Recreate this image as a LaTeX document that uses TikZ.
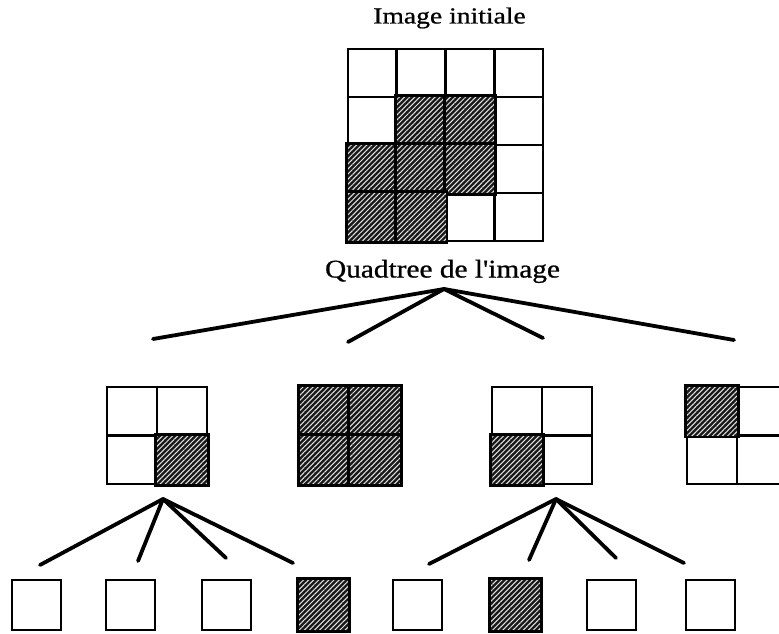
\documentclass[tikz,border=0pt]{standalone}
\usepackage{fontspec}
\setmainfont{Liberation Serif}
\usetikzlibrary{patterns.meta}
\tikzset{
  cell/.style={draw=black, line width=2.8pt, fill=white, inner sep=0pt, minimum width=#1},
  hatch/.style={preaction={fill=black!90}, pattern={Lines[angle=45,distance=3.6pt,line width=1.0pt]}, pattern color=white!90!black},
  link/.style={line width=3.8pt, line cap=round},
  lbl/.style={inner sep=0pt, anchor=base}
}
\begin{document}
\begin{tikzpicture}[x=1pt,y=-1pt]
\useasboundingbox (0,0) rectangle (779,634);
\clip (0,0) rectangle (779,634);
% titles
\node[lbl, font=\fontsize{23}{24}\selectfont\addfontfeature{FakeBold=0.7}, xscale=1.2] (title) at (449.5,23.5) {Image initiale};
\node[lbl, font=\fontsize{25.5}{27}\selectfont\addfontfeature{FakeBold=0.7}, xscale=1.15] (qtitle) at (442.5,277.5) {Quadtree de l\textquotesingle image};
% top grid 4x4
\foreach \r in {0,1,2,3}{
  \foreach \c in {0,1,2,3}{
    \node[cell=48.75pt, minimum height=48pt] (t\r\c) at (348+48.75*\c+24.375, 49+48*\r+24) {};
  }
}
\foreach \r/\c in {1/1,1/2,2/0,2/1,2/2,3/0,3/1}{
  \path[hatch] (t\r\c.north west) rectangle (t\r\c.south east);
  \draw[line width=2.8pt] (t\r\c.north west) rectangle (t\r\c.south east);
}
% second level grids
\foreach \g/\x in {1/107,2/300,3/492,4/687}{
  \foreach \r in {0,1}{
    \foreach \c in {0,1}{
      \node[cell=50pt, minimum height=48.5pt] (g\g\r\c) at (\x+50*\c+25, 387+48.5*\r+24.25) {};
    }
  }
}
\foreach \g/\r/\c in {1/1/1,2/0/0,2/0/1,2/1/0,2/1/1,3/1/0,4/0/0}{
  \path[hatch] (g\g\r\c.north west) rectangle (g\g\r\c.south east);
  \draw[line width=2.8pt] (g\g\r\c.north west) rectangle (g\g\r\c.south east);
}
% leaves
\foreach \i/\x in {1/12,2/106,3/202,4/299,5/393,6/491,7/587,8/686}{
  \node[cell=49pt, minimum height=50pt] (l\i) at (\x+24.5, 605) {};
}
\foreach \i in {4,6}{
  \path[hatch] (l\i.north west) rectangle (l\i.south east);
  \draw[line width=2.8pt] (l\i.north west) rectangle (l\i.south east);
}
% connectors top
\coordinate (a0) at (444,289);
\coordinate (e01) at (153,339);
\coordinate (e02) at (348,342);
\coordinate (e03) at (543,338);
\coordinate (e04) at (734,340);
\foreach \e in {e01,e02,e03,e04}{\draw[link] (a0) -- (\e);}
% connectors from grid 1
\coordinate (a1) at (163,499);
\coordinate (e11) at (40,565);
\coordinate (e12) at (138,561);
\coordinate (e13) at (226,558);
\coordinate (e14) at (293,563);
\foreach \e in {e11,e12,e13,e14}{\draw[link] (a1) -- (\e);}
% connectors from grid 3
\coordinate (a3) at (556,499);
\coordinate (e31) at (429,564);
\coordinate (e32) at (529,560);
\coordinate (e33) at (616,558);
\coordinate (e34) at (684,563);
\foreach \e in {e31,e32,e33,e34}{\draw[link] (a3) -- (\e);}
\end{tikzpicture}
\end{document}
